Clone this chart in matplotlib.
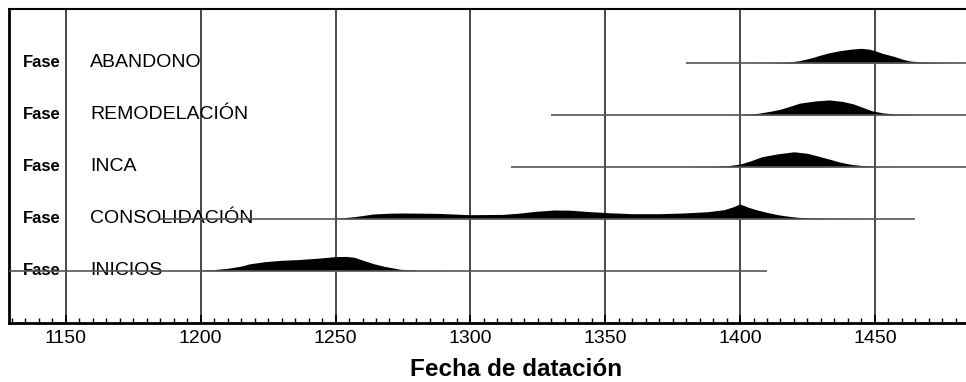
import numpy as np
import matplotlib
matplotlib.use("Agg")
import matplotlib.pyplot as plt
from matplotlib.ticker import MultipleLocator

plt.rcParams['font.family'] = ['Liberation Sans', 'DejaVu Sans']

# fases (de abajo hacia arriba)
fases = ['INICIOS', 'CONSOLIDACIÓN', 'INCA', 'REMODELACIÓN', 'ABANDONO']
# extension de la linea base de cada fase (años)
linea_ini = [1125, 1185, 1315, 1330, 1380]
linea_fin = [1410, 1465, 1490, 1490, 1490]

# distribuciones de probabilidad (año, altura relativa)
inicios_x = [1180, 1190, 1200, 1205, 1210, 1215, 1218, 1224, 1230, 1236, 1243, 1250, 1254, 1257, 1260, 1264, 1268, 1274, 1281, 1290]
inicios_y = [0.0, 0.1, 0.3, 1.0, 2.3, 4.5, 6.7, 9.0, 10.3, 11.0, 12.3, 14.0, 14.2, 13.3, 10.5, 7.0, 4.3, 1.3, 0.3, 0.0]

consol_x = [1249, 1253, 1257, 1264, 1270, 1275, 1288, 1300, 1312, 1318, 1324, 1331, 1337, 1343, 1351, 1360, 1370, 1379, 1388, 1394, 1397, 1400, 1403, 1406, 1410, 1414, 1418, 1422, 1428, 1435, 1447]
consol_y = [0.0, 1.0, 2.0, 4.7, 5.5, 5.7, 5.3, 4.0, 4.3, 5.5, 7.3, 8.7, 8.5, 7.3, 6.0, 5.0, 5.0, 5.7, 7.0, 9.0, 11.5, 14.7, 11.5, 9.0, 6.3, 4.0, 2.4, 1.3, 0.6, 0.3, 0.0]

inca_x = [1380, 1390, 1396, 1400, 1404, 1408, 1414, 1420, 1425, 1430, 1434, 1437, 1441, 1445, 1450, 1456]
inca_y = [0.0, 0.3, 1.3, 2.7, 6.0, 10.0, 13.0, 15.0, 13.5, 10.0, 7.0, 4.7, 2.5, 1.3, 0.3, 0.0]

remod_x = [1395, 1400, 1404, 1407, 1411, 1415, 1419, 1422, 1428, 1433, 1438, 1442, 1446, 1449, 1453, 1457, 1467]
remod_y = [0.0, 0.2, 0.8, 1.7, 3.5, 5.7, 9.0, 11.7, 14.0, 15.0, 13.5, 11.0, 7.0, 4.0, 2.0, 1.0, 0.0]

aband_x = [1405, 1411, 1415, 1419, 1422, 1426, 1430, 1433, 1437, 1441, 1445, 1448, 1450, 1453, 1457, 1460, 1463, 1468, 1472, 1482]
aband_y = [0.0, 0.2, 0.6, 1.3, 2.3, 4.8, 8.0, 10.2, 12.3, 13.8, 14.7, 13.8, 12.3, 9.5, 6.7, 4.0, 2.0, 1.0, 0.5, 0.0]

curvas_x = [inicios_x, consol_x, inca_x, remod_x, aband_x]
curvas_y = [inicios_y, consol_y, inca_y, remod_y, aband_y]

escala = 1 / 52.0

fig = plt.figure(figsize=(9.66, 3.82), dpi=100)
ax = fig.add_axes([9 / 966, 59 / 382, 957 / 966, 314 / 382])

ax.set_xlim(1128.9, 1483.8)
ax.set_ylim(-1.01, 5.04)

# rejilla vertical cada 50 años
for yr in range(1150, 1500, 50):
    ax.axvline(yr, color='#3a3a3a', lw=1.3, zorder=1)

for i, nombre in enumerate(fases):
    ax.hlines(i, linea_ini[i], linea_fin[i], color='#555555', lw=1.2, zorder=4)
    xs = np.array(curvas_x[i])
    ys = np.array(curvas_y[i]) * escala
    ax.fill_between(xs, i, i + ys, color='black', lw=0, zorder=3)
    ax.text(1141.1, i, 'Fase', fontsize=12, fontweight='bold', ha='center', va='center', zorder=2)
    ax.text(1158.9, i, nombre, fontsize=14, ha='left', va='center', zorder=2)

ax.xaxis.set_major_locator(MultipleLocator(50))
ax.xaxis.set_minor_locator(MultipleLocator(5))
ax.tick_params(axis='x', which='major', direction='in', length=6, width=1.2, labelsize=14, pad=5)
ax.tick_params(axis='x', which='minor', direction='in', length=3.5, width=1)
ax.set_yticks([])

ax.spines['right'].set_visible(False)
ax.spines['left'].set_linewidth(2)
ax.spines['bottom'].set_linewidth(2)
ax.spines['top'].set_linewidth(1.5)

fig.text(516 / 966, 1 - 370 / 382, 'Fecha de datación', fontsize=17.5, fontweight='bold', ha='center', va='center')

fig.savefig('out.png', dpi=100)
